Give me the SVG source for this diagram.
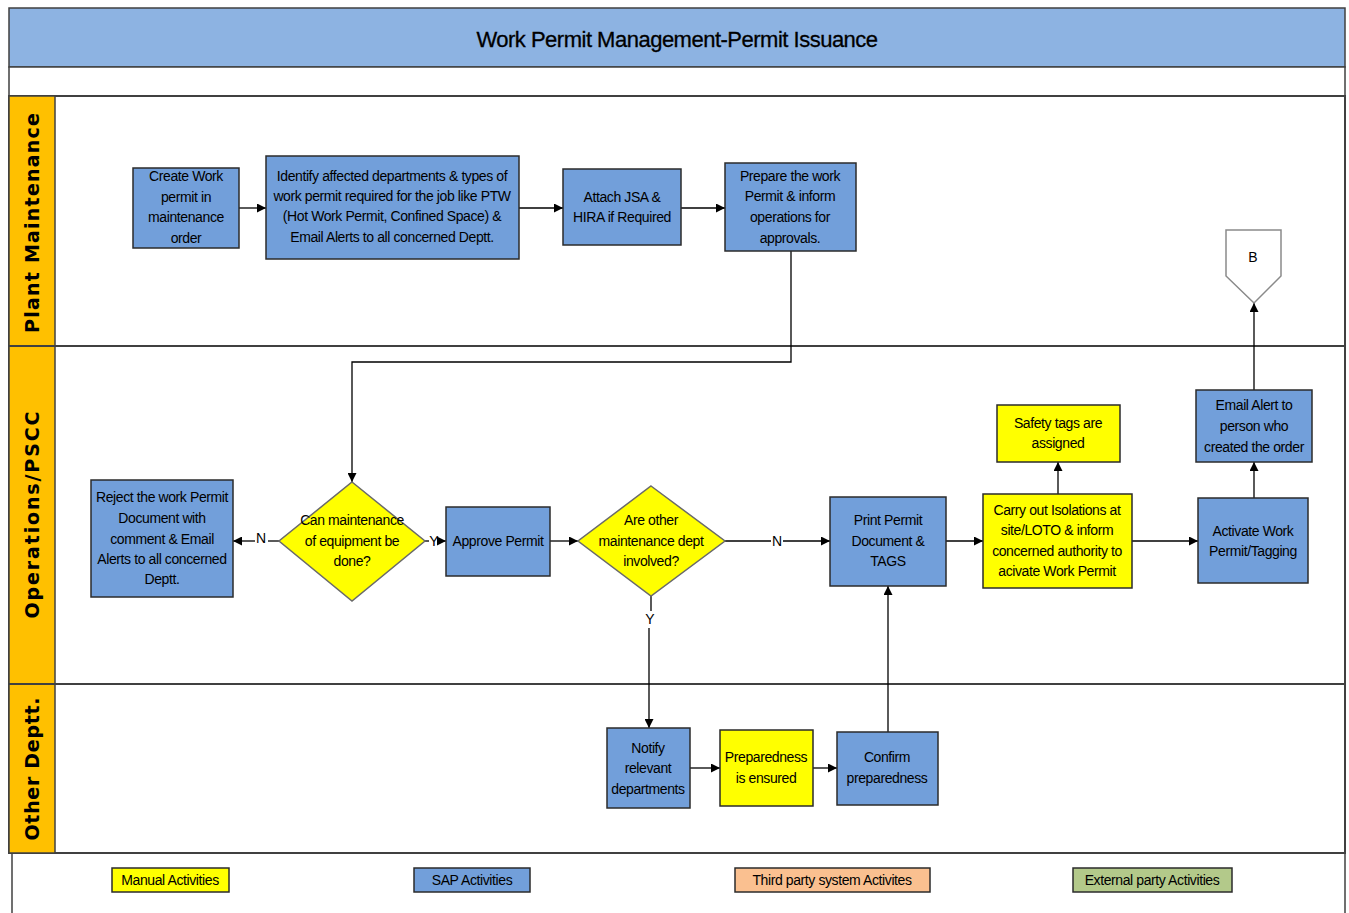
<svg xmlns="http://www.w3.org/2000/svg" width="1349" height="913" viewBox="0 0 1349 913">
<defs>
<marker id="arr" viewBox="0 0 10 10" refX="10" refY="5" markerWidth="9" markerHeight="9" markerUnits="userSpaceOnUse" orient="auto">
<path d="M0,0 L10,5 L0,10 z" fill="#000"/>
</marker>
<style>
.t{font-family:"Liberation Sans",Arial,sans-serif;font-size:14px;fill:#000;letter-spacing:-0.4px;text-anchor:middle;dominant-baseline:central}
.lane{font-family:"DejaVu Sans",Verdana,sans-serif;font-weight:bold;font-size:19px;fill:#000;text-anchor:middle;dominant-baseline:central}
.sap{fill:#729FDA;stroke:#2b2b2b;stroke-width:1.5}
.man{fill:#FFFF00;stroke:#2b2b2b;stroke-width:1.5}
.dia{fill:#FFFF00;stroke:#6a6a6a;stroke-width:1.5}
.ln{stroke:#404040;stroke-width:2;fill:none}
.c{stroke:#000;stroke-width:1.3;fill:none}
.ca{stroke:#000;stroke-width:1.3;fill:none;marker-end:url(#arr)}
.lab{font-family:"Liberation Sans",Arial,sans-serif;font-size:14px;fill:#000;text-anchor:middle;dominant-baseline:central}
</style>
</defs>
<rect width="1349" height="913" fill="#fff"/>
<g id="frame">
<rect x="9" y="8" width="1336" height="59" fill="#8DB3E2" stroke="#404040" stroke-width="1.5"/>
<text x="677" y="39" font-family="Liberation Sans, Arial, sans-serif" font-size="22" letter-spacing="-0.5" stroke="#000" stroke-width="0.3" text-anchor="middle" dominant-baseline="central">Work Permit Management-Permit Issuance</text>
<rect x="9" y="67" width="1336" height="29" fill="#fff" stroke="#404040" stroke-width="1.5"/>
<rect x="9" y="96" width="1336" height="757" fill="#fff" stroke="#404040" stroke-width="2"/>
<rect x="9" y="96" width="46" height="757" fill="#FFC000" stroke="#404040" stroke-width="1.5"/>
<line class="ln" x1="9" y1="346" x2="1345" y2="346"/>
<line class="ln" x1="9" y1="684" x2="1345" y2="684"/>
<line x1="12" y1="853" x2="12" y2="913" stroke="#404040" stroke-width="1.5"/>
<line x1="1345" y1="853" x2="1345" y2="913" stroke="#404040" stroke-width="1.5"/>
<text class="lane" transform="translate(32,223) rotate(-90)" textLength="220" lengthAdjust="spacing">Plant Maintenance</text>
<text class="lane" transform="translate(32,515) rotate(-90)" textLength="207" lengthAdjust="spacing">Operations/PSCC</text>
<text class="lane" transform="translate(32,769) rotate(-90)" textLength="143" lengthAdjust="spacing">Other Deptt.</text>
</g>
<g id="connectors">
<line class="ca" x1="239" y1="208" x2="266" y2="208"/>
<line class="ca" x1="519" y1="208" x2="563" y2="208"/>
<line class="ca" x1="681" y1="208" x2="725" y2="208"/>
<polyline class="ca" points="791,251 791,362 352,362 352,482"/>
<line class="c" x1="279" y1="541" x2="268" y2="541"/>
<line class="ca" x1="255" y1="541" x2="233" y2="541"/>
<text class="lab" x="261" y="538">N</text>
<line class="c" x1="425" y1="541" x2="429" y2="541"/>
<line class="ca" x1="438" y1="541" x2="446" y2="541"/>
<text class="lab" x="434" y="541">Y</text>
<line class="ca" x1="550" y1="541" x2="578" y2="541"/>
<line class="c" x1="725" y1="541" x2="771" y2="541"/>
<line class="ca" x1="783" y1="541" x2="830" y2="541"/>
<text class="lab" x="777" y="541">N</text>
<line class="ca" x1="946" y1="541" x2="983" y2="541"/>
<line class="ca" x1="1058" y1="494" x2="1058" y2="462"/>
<line class="ca" x1="1132" y1="541" x2="1198" y2="541"/>
<line class="ca" x1="1254" y1="498" x2="1254" y2="462"/>
<line class="ca" x1="1254" y1="390" x2="1254" y2="303"/>
<line class="c" x1="651" y1="596" x2="651" y2="611"/>
<text class="lab" x="650" y="619">Y</text>
<line class="ca" x1="649" y1="628" x2="649" y2="728"/>
<line class="ca" x1="690" y1="768" x2="720" y2="768"/>
<line class="ca" x1="813" y1="768" x2="837" y2="768"/>
<line class="ca" x1="888" y1="732" x2="888" y2="586"/>
</g>
<g id="create">
<rect class="sap" x="133" y="168" width="106" height="80"/>
<text class="t" x="186" y="176">Create Work</text>
<text class="t" x="186" y="197">permit in</text>
<text class="t" x="186" y="217">maintenance</text>
<text class="t" x="186" y="238">order</text>
</g>
<g id="identify">
<rect class="sap" x="266" y="156" width="253" height="103"/>
<text class="t" x="392" y="176">Identify affected departments &amp; types of</text>
<text class="t" x="392" y="196">work permit required for the job like PTW</text>
<text class="t" x="392" y="216" font-size="17">(Hot Work Permit, Confined Space) &amp;</text>
<text class="t" x="392" y="237">Email Alerts to  all concerned Deptt.</text>
</g>
<g id="attach">
<rect class="sap" x="563" y="169" width="118" height="76"/>
<text class="t" x="622" y="197">Attach JSA &amp;</text>
<text class="t" x="622" y="217">HIRA if Required</text>
</g>
<g id="prepare">
<rect class="sap" x="725" y="163" width="131" height="88"/>
<text class="t" x="790" y="176">Prepare the work</text>
<text class="t" x="790" y="196">Permit &amp; inform</text>
<text class="t" x="790" y="217">operations for</text>
<text class="t" x="790" y="238">approvals.</text>
</g>
<g id="offpageB">
<polygon points="1226,230 1281,230 1281,276 1254,303 1226,276" fill="#fff" stroke="#8a8a8a" stroke-width="1.5"/>
<text class="lab" x="1253" y="257" font-size="13">B</text>
</g>
<g id="reject">
<rect class="sap" x="91" y="480" width="142" height="117"/>
<text class="t" x="162" y="497">Reject the work Permit</text>
<text class="t" x="162" y="518">Document  with</text>
<text class="t" x="162" y="539">comment &amp; Email</text>
<text class="t" x="162" y="559">Alerts to  all concerned</text>
<text class="t" x="162" y="579">Deptt.</text>
</g>
<g id="decision1">
<polygon class="dia" points="352,482 425,541 352,601 279,541"/>
<text class="t" x="352" y="520">Can maintenance</text>
<text class="t" x="352" y="541">of equipment  be</text>
<text class="t" x="352" y="561">done?</text>
</g>
<g id="approve">
<rect class="sap" x="446" y="507" width="104" height="69"/>
<text class="t" x="498" y="541">Approve Permit</text>
</g>
<g id="decision2">
<polygon class="dia" points="651,486 725,541 651,596 578,541"/>
<text class="t" x="651" y="520">Are other</text>
<text class="t" x="651" y="541">maintenance dept</text>
<text class="t" x="651" y="561">involved?</text>
</g>
<g id="print">
<rect class="sap" x="830" y="497" width="116" height="89"/>
<text class="t" x="888" y="520">Print Permit</text>
<text class="t" x="888" y="541">Document &amp;</text>
<text class="t" x="888" y="561">TAGS</text>
</g>
<g id="carry">
<rect class="man" x="983" y="494" width="149" height="94"/>
<text class="t" x="1057" y="510">Carry out Isolations at</text>
<text class="t" x="1057" y="530">site/LOTO &amp; inform</text>
<text class="t" x="1057" y="551">concerned authority to</text>
<text class="t" x="1057" y="571">acivate Work Permit</text>
</g>
<g id="safety">
<rect class="man" x="997" y="405" width="123" height="57"/>
<text class="t" x="1058" y="423">Safety tags are</text>
<text class="t" x="1058" y="443">assigned</text>
</g>
<g id="activate">
<rect class="sap" x="1198" y="498" width="110" height="85"/>
<text class="t" x="1253" y="531">Activate Work</text>
<text class="t" x="1253" y="551">Permit/Tagging</text>
</g>
<g id="email">
<rect class="sap" x="1196" y="390" width="116" height="72"/>
<text class="t" x="1254" y="405">Email Alert to</text>
<text class="t" x="1254" y="426">person who</text>
<text class="t" x="1254" y="447">created the order</text>
</g>
<g id="notify">
<rect class="sap" x="607" y="728" width="83" height="80"/>
<text class="t" x="648" y="748">Notify</text>
<text class="t" x="648" y="768">relevant</text>
<text class="t" x="648" y="789">departments</text>
</g>
<g id="preparedness">
<rect class="man" x="720" y="730" width="93" height="76"/>
<text class="t" x="766" y="757">Preparedness</text>
<text class="t" x="766" y="778">is ensured</text>
</g>
<g id="confirm">
<rect class="sap" x="837" y="732" width="101" height="73"/>
<text class="t" x="887" y="757">Confirm</text>
<text class="t" x="887" y="778">preparedness</text>
</g>
<g id="legend">
<rect x="112" y="868" width="117" height="24" fill="#FFFF00" stroke="#2b2b2b" stroke-width="1.5"/>
<text class="t" x="170" y="880">Manual Activities</text>
<rect x="414" y="868" width="116" height="24" fill="#729FDA" stroke="#2b2b2b" stroke-width="1.5"/>
<text class="t" x="472" y="880">SAP Activities</text>
<rect x="735" y="868" width="195" height="24" fill="#FAC090" stroke="#2b2b2b" stroke-width="1.5"/>
<text class="t" x="832" y="880">Third party system Activites</text>
<rect x="1073" y="868" width="159" height="24" fill="#B3C98A" stroke="#2b2b2b" stroke-width="1.5"/>
<text class="t" x="1152" y="880">External party Activities</text>
</g>
</svg>
